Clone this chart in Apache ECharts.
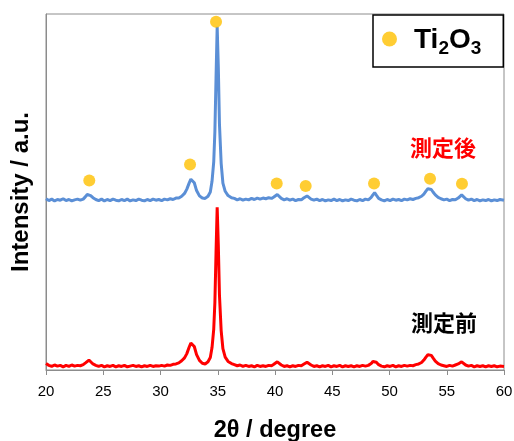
<!DOCTYPE html>
<html>
<head>
<meta charset="utf-8">
<script src="https://cdn.jsdelivr.net/npm/echarts@6/dist/echarts.min.js"></script>
<style>
html,body{margin:0;padding:0;background:#fff;}
#chart{width:514px;height:441px;}
</style>
</head>
<body>
<div id="chart"></div>
<script>
// 2θ positions (degree) shared by both patterns
const twoTheta = [
  20, 20.25, 20.5, 20.75, 21, 21.25, 21.5, 21.75, 22, 22.25, 22.5, 22.75, 23, 23.25,
  23.45, 23.6, 23.75, 23.9, 24.1, 24.35,
  24.6, 24.85, 25.1, 25.35, 25.6, 25.85, 26.1, 26.35, 26.6, 26.85, 27.1, 27.35, 27.6, 27.85,
  28.1, 28.35, 28.6, 28.85, 29.1, 29.35, 29.6, 29.85, 30.1, 30.35, 30.6, 30.85, 31.1, 31.35,
  31.6, 31.85, 32.1, 32.3, 32.5, 32.65, 32.8, 32.95, 33.15, 33.4, 33.65, 33.9, 34.15, 34.35,
  34.5, 34.65, 34.75, 34.85, 34.95, 35.05, 35.15, 35.3, 35.45, 35.65, 35.9, 36.2,
  36.45, 36.7, 36.95, 37.2, 37.45, 37.7, 37.95, 38.2, 38.45, 38.7, 38.95, 39.2, 39.45, 39.7,
  39.9, 40.05, 40.2, 40.35, 40.55,
  40.8, 41.05, 41.3, 41.55, 41.8, 42.05, 42.3,
  42.5, 42.65, 42.8, 42.95, 43.15,
  43.4, 43.65, 43.9, 44.15, 44.4, 44.65, 44.9, 45.15, 45.4, 45.65, 45.9, 46.15, 46.4, 46.65,
  46.9, 47.15, 47.4, 47.65, 47.9, 48.15,
  48.4, 48.55, 48.7, 48.85, 49.05,
  49.3, 49.55, 49.8, 50.05, 50.3, 50.55, 50.8, 51.05, 51.3, 51.55, 51.8, 52.05, 52.3, 52.55,
  52.8, 53.0, 53.2, 53.35, 53.5, 53.65, 53.8, 54.0, 54.25, 54.5,
  54.75, 55.0, 55.25, 55.5, 55.75,
  56.0, 56.15, 56.3, 56.45, 56.65,
  56.9, 57.15, 57.4, 57.65, 57.9, 58.15, 58.4, 58.65, 58.9, 59.15, 59.4, 59.65, 60
];
// after measurement (blue), arbitrary units
const afterScan = [
  48.1, 47.6, 48.0, 47.5, 47.9, 47.7, 48.1, 47.6, 47.9, 47.5, 47.8, 48.0, 47.7, 48.0,
  48.7, 49.3, 49.6, 49.0, 48.4, 47.9,
  47.6, 48.0, 47.5, 47.9, 47.6, 48.0, 47.7, 47.5, 47.9, 47.6, 48.0, 47.5, 47.8, 47.6,
  48.0, 47.7, 47.5, 47.9, 47.6, 48.0, 47.7, 47.9, 47.6, 48.0, 47.8, 48.1, 47.9, 48.3,
  48.3, 48.8, 49.6, 50.8, 52.5, 53.6, 53.9, 52.6, 50.4, 48.9, 48.3, 48.2, 48.8, 50.0,
  53.0, 58.5, 67.0, 82.0, 96.4, 85.0, 69.0, 58.0, 52.5, 50.2, 49.0, 48.4,
  48.2, 47.8, 48.1, 47.7, 48.0, 47.8, 48.2, 47.9, 48.3, 48.0, 48.3, 48.1, 48.4, 48.2,
  48.6, 49.0, 49.3, 48.8, 48.2,
  47.8, 48.1, 47.7, 48.0, 47.6, 47.9, 47.8,
  48.3, 48.6, 48.9, 48.5, 48.0,
  47.7, 48.0, 47.6, 47.9, 47.5, 47.8, 47.6, 48.0, 47.6, 47.9, 47.5, 47.8, 47.6, 48.0,
  47.7, 47.5, 47.9, 47.6, 48.0, 47.8,
  48.5, 49.2, 49.8, 49.1, 48.2,
  47.8, 47.5, 47.9, 47.6, 48.0, 47.7, 47.9, 47.6, 48.0, 47.8, 48.1, 47.9, 48.2, 48.4,
  48.8, 49.4, 50.3, 50.9, 51.1, 50.7, 50.0, 49.2, 48.5, 48.1,
  47.8, 48.0, 47.6, 47.9, 47.8,
  48.3, 48.8, 49.2, 48.7, 48.1,
  47.7, 48.0, 47.6, 47.9, 47.5, 47.8, 47.6, 47.9, 47.5, 47.8, 47.6, 47.9, 47.7
];
// before measurement (red), arbitrary units
const beforeScan = [
  1.8, 1.3, 1.0, 1.4, 1.1, 1.3, 0.9, 1.3, 1.0, 1.4, 1.1, 1.3, 1.2, 1.5,
  2.0, 2.5, 2.8, 2.3, 1.7, 1.3,
  1.0, 1.3, 0.9, 1.2, 1.0, 1.3, 0.9, 1.2, 1.0, 1.3, 0.9, 1.1, 1.3, 1.0,
  1.2, 0.9, 1.2, 1.0, 1.3, 1.0, 1.2, 1.1, 1.3, 1.1, 1.4, 1.3, 1.6, 1.7,
  2.0, 2.6, 3.4, 4.6, 6.4, 7.6, 7.9, 6.6, 4.3, 2.7, 1.9, 1.7, 2.3, 3.5,
  6.3, 11.5, 19.0, 33.0, 45.7, 35.0, 21.0, 11.0, 6.0, 3.6, 2.4, 1.8,
  1.5, 1.2, 1.4, 1.0, 1.3, 1.0, 1.2, 0.9, 1.3, 1.0, 1.2, 1.0, 1.3, 1.2,
  1.6, 2.1, 2.3, 1.9, 1.4,
  1.0, 1.2, 0.9, 1.2, 1.0, 1.3, 1.2,
  1.6, 1.9, 2.2, 1.9, 1.4,
  1.0, 1.2, 0.9, 1.2, 1.0, 1.3, 0.9, 1.2, 1.0, 1.3, 0.9, 1.2, 1.0, 1.2,
  0.9, 1.2, 1.0, 1.3, 1.1, 1.3,
  1.8, 2.4, 2.8, 2.2, 1.5,
  1.1, 0.9, 1.2, 1.0, 1.3, 0.9, 1.2, 1.0, 1.3, 1.1, 1.3, 1.2, 1.5, 1.7,
  2.1, 2.8, 3.7, 4.3, 4.5, 4.1, 3.4, 2.5, 1.8, 1.4,
  1.2, 1.0, 1.3, 1.1, 1.4,
  1.7, 2.0, 2.3, 1.9, 1.4,
  1.1, 1.3, 0.9, 1.2, 1.0, 1.2, 0.9, 1.2, 1.0, 1.2, 0.9, 1.1, 1.0
];
// Ti2O3 reflection markers
const ti2o3Theta = [23.78, 32.58, 34.85, 40.15, 42.68, 48.65, 53.54, 56.33];
const ti2o3Mark  = [53.2, 57.7, 97.8, 52.4, 51.7, 52.4, 53.7, 52.3];
const xTicks = [20, 25, 30, 35, 40, 45, 50, 55, 60];

const zip = (xs, ys) => xs.map((x, i) => [x, ys[i]]);

const chart = echarts.init(document.getElementById('chart'));
const latin = '"Liberation Sans", Arial, sans-serif';
const cjk = '"Noto Sans CJK JP", sans-serif';

chart.setOption({
  animation: false,
  backgroundColor: '#ffffff',
  grid: {
    left: 46, right: 10, top: 14, bottom: 71, containLabel: false, outerBoundsMode: 'none',
    show: true, borderColor: '#8c8c8c', borderWidth: 1
  },
  xAxis: {
    type: 'value', min: xTicks[0], max: xTicks[xTicks.length - 1], interval: 5,
    name: '2θ / degree', nameLocation: 'middle', nameGap: 49,
    nameTextStyle: { fontFamily: latin, fontWeight: 'bold', fontSize: 23.5, color: '#000' },
    axisLine: { lineStyle: { color: '#8c8c8c', width: 1 } },
    axisTick: { show: true, length: 5, lineStyle: { color: '#8c8c8c' } },
    axisLabel: { fontFamily: latin, fontSize: 15, color: '#000', margin: 14 },
    splitLine: { show: false }
  },
  yAxis: {
    type: 'value', min: 0, max: 100,
    name: 'Intensity / a.u.', nameLocation: 'middle', nameGap: 13,
    nameTextStyle: { fontFamily: latin, fontWeight: 'bold', fontSize: 24, color: '#000' },
    axisLine: { show: true, lineStyle: { color: '#8c8c8c', width: 1 } },
    axisTick: { show: false },
    axisLabel: { show: false },
    splitLine: { show: false }
  },
  legend: {
    data: [{ name: 'Ti2O3', icon: 'circle' }],
    left: 373, top: 15, orient: 'horizontal',
    borderColor: '#000', borderWidth: 1.5, backgroundColor: '#fff',
    padding: [11, 22, 9, 9], itemWidth: 15, itemHeight: 15, itemGap: 10,
    formatter: () => '{b|Ti}{s|2}{c|O}{s|3}',
    textStyle: {
      rich: {
        b: { fontFamily: latin, fontWeight: 'bold', fontSize: 28, color: '#000', verticalAlign: 'bottom', lineHeight: 30, padding: [0, 0, 0, 12] },
        c: { fontFamily: latin, fontWeight: 'bold', fontSize: 28, color: '#000', verticalAlign: 'bottom', lineHeight: 30 },
        s: { fontFamily: latin, fontWeight: 'bold', fontSize: 19, color: '#000', verticalAlign: 'bottom', lineHeight: 30, padding: [0, 0, -4, 0] }
      }
    }
  },
  series: [
    {
      name: '測定後', type: 'line', data: zip(twoTheta, afterScan), showSymbol: false,
      lineStyle: { color: '#5b8fd6', width: 3 }, itemStyle: { color: '#5b8fd6' }, z: 2
    },
    {
      name: '測定前', type: 'line', data: zip(twoTheta, beforeScan), showSymbol: false,
      lineStyle: { color: '#ff0000', width: 3 }, itemStyle: { color: '#ff0000' }, z: 2
    },
    {
      name: 'Ti2O3', type: 'scatter', data: zip(ti2o3Theta, ti2o3Mark), symbol: 'circle', symbolSize: 12,
      itemStyle: { color: '#ffc000' }, z: 3
    }
  ],
  graphic: [
    { type: 'text', left: 410, top: 137, style: { text: '測定後', fill: '#ff0000', font: 'bold 22px ' + cjk } },
    { type: 'text', left: 411, top: 312, style: { text: '測定前', fill: '#000000', font: 'bold 22px ' + cjk } }
  ]
});
</script>
</body>
</html>
